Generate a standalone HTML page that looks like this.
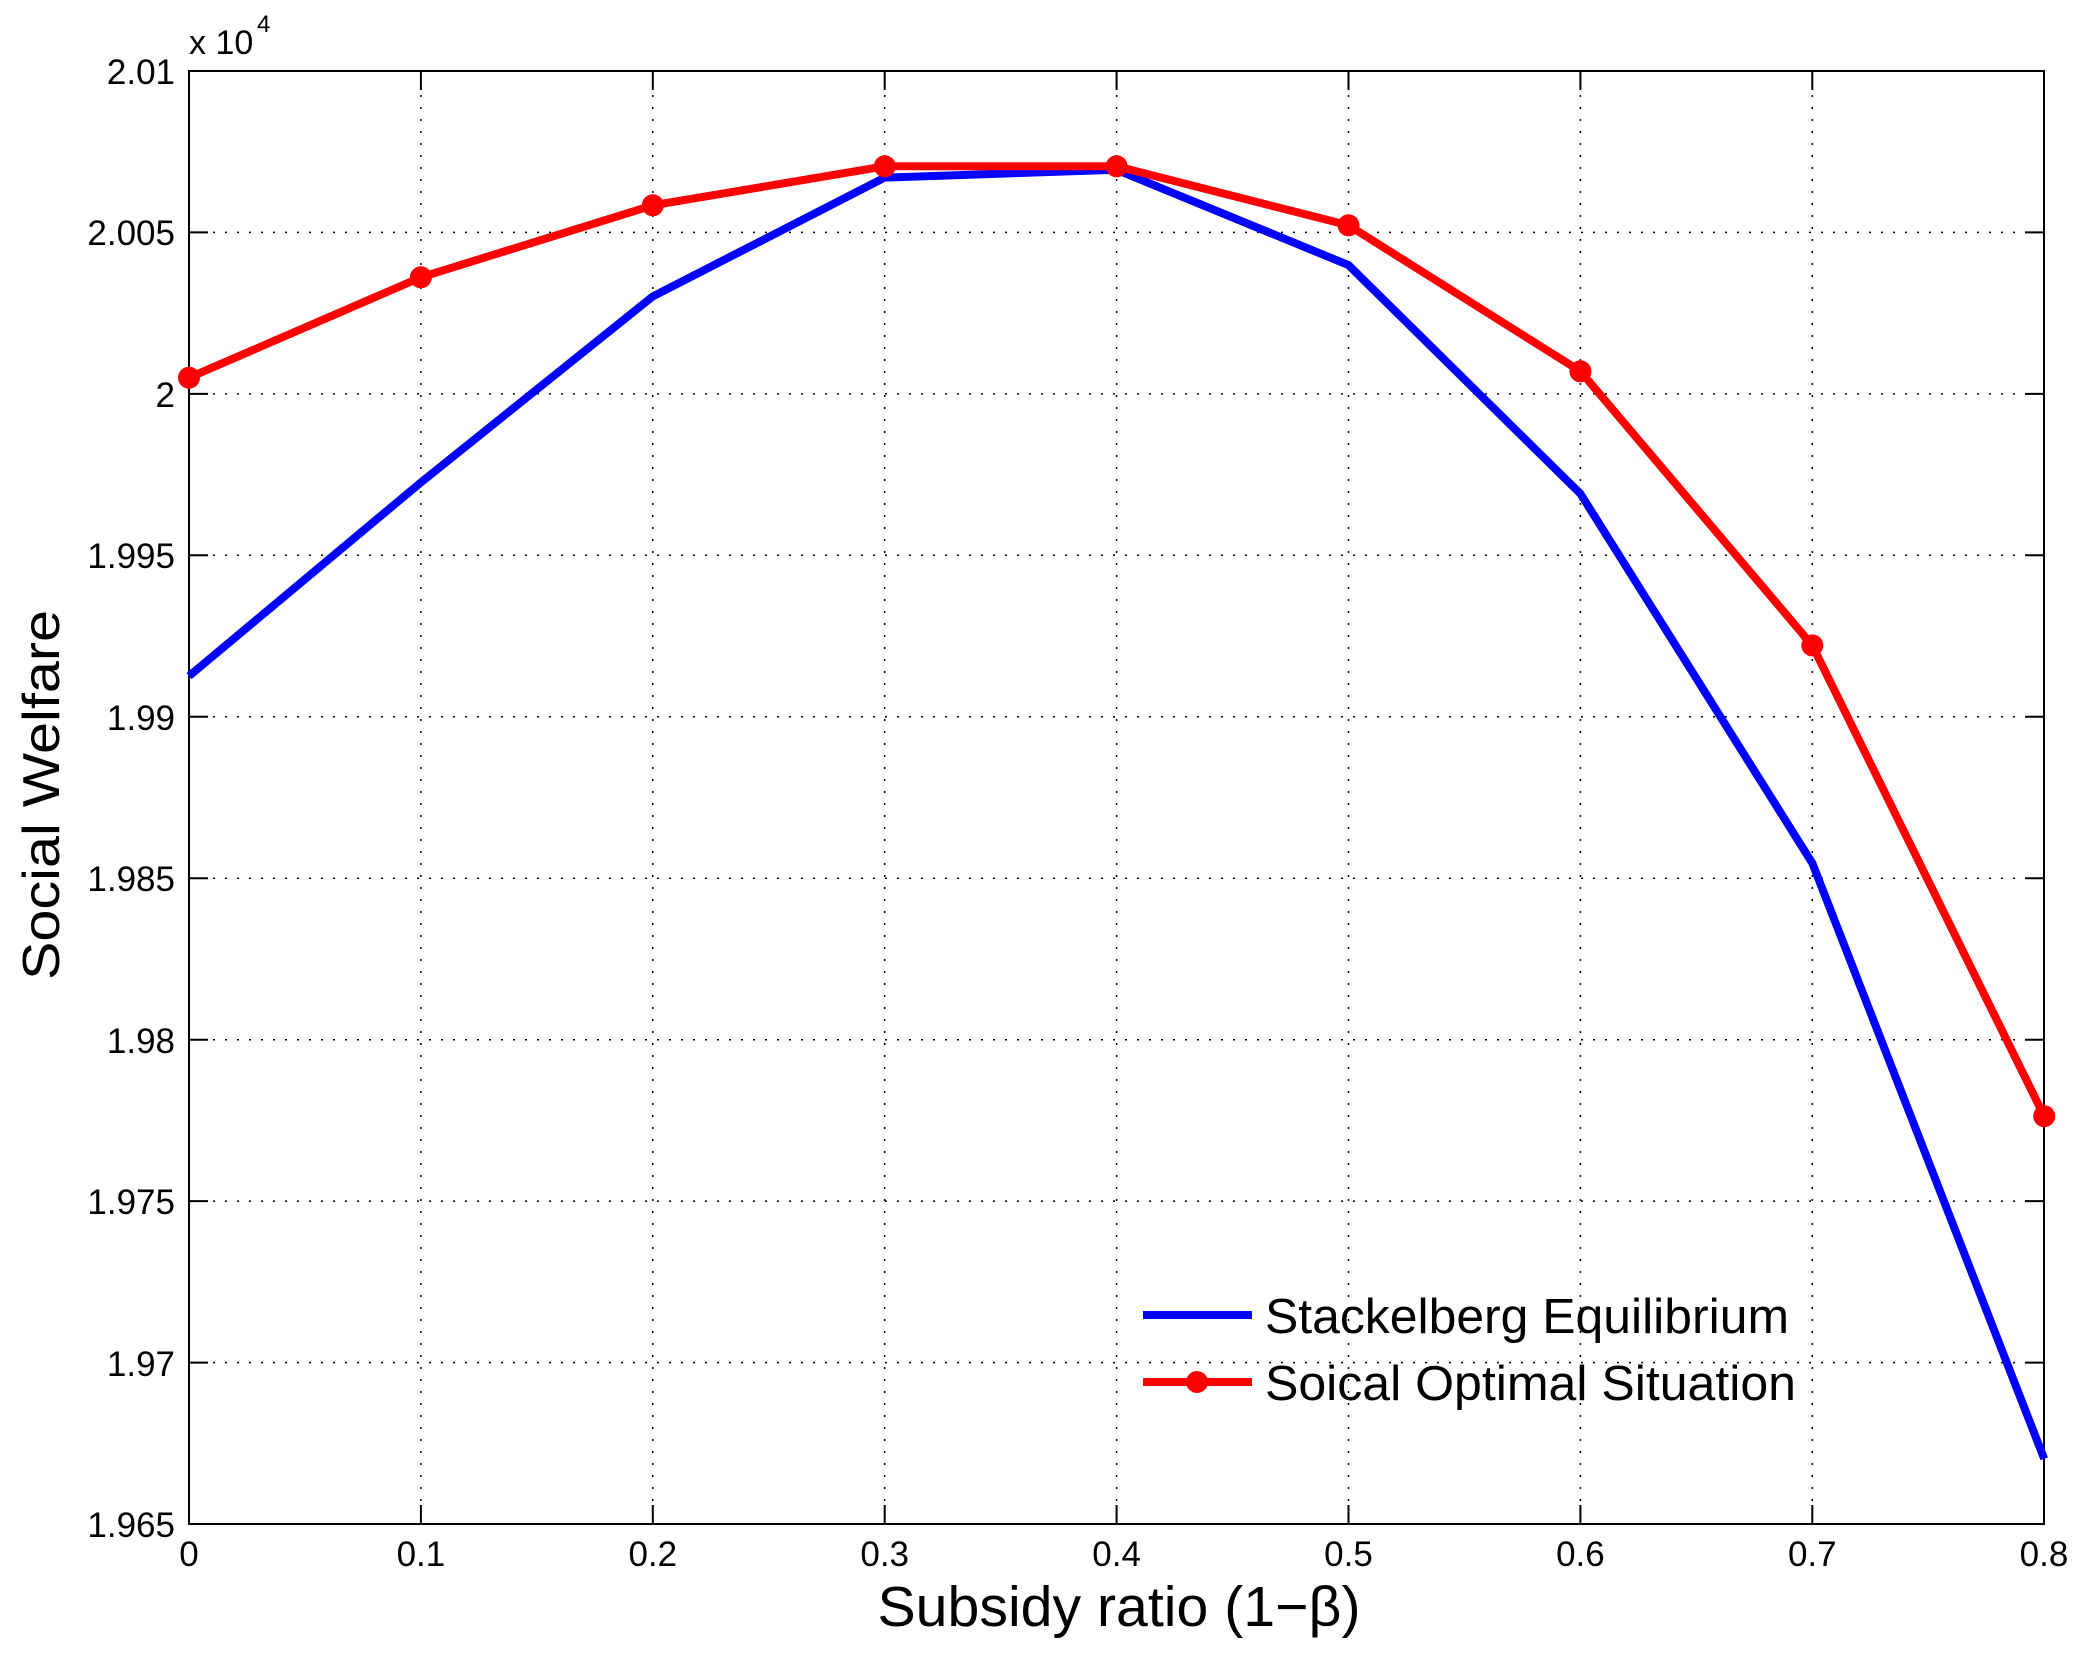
<!DOCTYPE html>
<html><head><meta charset="utf-8"><style>html,body{margin:0;padding:0;background:#fff}svg{display:block}</style></head>
<body>
<svg width="2086" height="1656" viewBox="0 0 2086 1656" xmlns="http://www.w3.org/2000/svg" font-family="Liberation Sans, Arial, sans-serif">
<rect width="2086" height="1656" fill="#fff"/>
<g stroke="#000" stroke-width="1.5" stroke-dasharray="2,10">
<line x1="420.9" y1="71" x2="420.9" y2="1524"/><line x1="652.8" y1="71" x2="652.8" y2="1524"/>
<line x1="884.7" y1="71" x2="884.7" y2="1524"/><line x1="1116.6" y1="71" x2="1116.6" y2="1524"/>
<line x1="1348.5" y1="71" x2="1348.5" y2="1524"/><line x1="1580.4" y1="71" x2="1580.4" y2="1524"/>
<line x1="1812.3" y1="71" x2="1812.3" y2="1524"/>
<line x1="189" y1="232.4" x2="2044" y2="232.4"/><line x1="189" y1="393.9" x2="2044" y2="393.9"/>
<line x1="189" y1="555.3" x2="2044" y2="555.3"/><line x1="189" y1="716.8" x2="2044" y2="716.8"/>
<line x1="189" y1="878.2" x2="2044" y2="878.2"/><line x1="189" y1="1039.7" x2="2044" y2="1039.7"/>
<line x1="189" y1="1201.1" x2="2044" y2="1201.1"/><line x1="189" y1="1362.6" x2="2044" y2="1362.6"/>
</g>
<g stroke="#000" stroke-width="2">
<path d="M189,1524v-19M420.9,1524v-19M652.8,1524v-19M884.7,1524v-19M1116.6,1524v-19M1348.5,1524v-19M1580.4,1524v-19M1812.3,1524v-19M2044,1524v-19"/>
<path d="M420.9,71v19M652.8,71v19M884.7,71v19M1116.6,71v19M1348.5,71v19M1580.4,71v19M1812.3,71v19"/>
<path d="M189,232.4h19M189,393.9h19M189,555.3h19M189,716.8h19M189,878.2h19M189,1039.7h19M189,1201.1h19M189,1362.6h19"/>
<path d="M2044,232.4h-19M2044,393.9h-19M2044,555.3h-19M2044,716.8h-19M2044,878.2h-19M2044,1039.7h-19M2044,1201.1h-19M2044,1362.6h-19"/>
<rect x="189" y="71" width="1855" height="1453" fill="none"/>
</g>
<polyline fill="none" stroke="#0000ff" stroke-width="8" stroke-linejoin="round" points="189,676.1 420.9,482.4 652.8,296.4 884.7,177.6 1116.6,169.8 1348.5,265.1 1580.4,493.7 1812.3,863.1 2044.2,1458.8"/>
<polyline fill="none" stroke="#ff0000" stroke-width="8" stroke-linejoin="round" points="189,377.7 420.9,277.3 652.8,205.3 884.7,166.3 1116.6,166.3 1348.5,225.3 1580.4,371.3 1812.3,645.4 2044.2,1116.2"/>
<g fill="#ff0000">
<circle cx="189" cy="377.7" r="11"/><circle cx="420.9" cy="277.3" r="11"/><circle cx="652.8" cy="205.3" r="11"/>
<circle cx="884.7" cy="166.3" r="11"/><circle cx="1116.6" cy="166.3" r="11"/><circle cx="1348.5" cy="225.3" r="11"/>
<circle cx="1580.4" cy="371.3" r="11"/><circle cx="1812.3" cy="645.4" r="11"/><circle cx="2044.2" cy="1116.2" r="11"/>
</g>
<g font-size="35" text-anchor="middle" fill="#000">
<text x="189" y="1566">0</text><text x="420.9" y="1566">0.1</text><text x="652.8" y="1566">0.2</text>
<text x="884.7" y="1566">0.3</text><text x="1116.6" y="1566">0.4</text><text x="1348.5" y="1566">0.5</text>
<text x="1580.4" y="1566">0.6</text><text x="1812.3" y="1566">0.7</text><text x="2044" y="1566">0.8</text>
</g>
<g font-size="35" text-anchor="end" fill="#000">
<text x="175" y="84">2.01</text><text x="175" y="245">2.005</text><text x="175" y="407">2</text>
<text x="175" y="568">1.995</text><text x="175" y="730">1.99</text><text x="175" y="891">1.985</text>
<text x="175" y="1053">1.98</text><text x="175" y="1214">1.975</text><text x="175" y="1376">1.97</text>
<text x="175" y="1537">1.965</text>
</g>
<text x="189" y="54" font-size="34">x 10</text>
<text x="257" y="32" font-size="24">4</text>
<text transform="translate(59,795) rotate(-90)" font-size="52" text-anchor="middle" textLength="370" lengthAdjust="spacingAndGlyphs">Social Welfare</text>
<text x="1119" y="1626" font-size="57" text-anchor="middle" textLength="483" lengthAdjust="spacingAndGlyphs">Subsidy ratio (1−β)</text>
<line x1="1143" y1="1315" x2="1252" y2="1315" stroke="#0000ff" stroke-width="8"/>
<line x1="1143" y1="1382" x2="1252" y2="1382" stroke="#ff0000" stroke-width="8"/>
<circle cx="1197" cy="1382" r="11" fill="#ff0000"/>
<text x="1265" y="1333" font-size="49" textLength="524" lengthAdjust="spacingAndGlyphs">Stackelberg Equilibrium</text>
<text x="1265" y="1400" font-size="49" textLength="531" lengthAdjust="spacingAndGlyphs">Soical Optimal Situation</text>
</svg>
</body></html>
